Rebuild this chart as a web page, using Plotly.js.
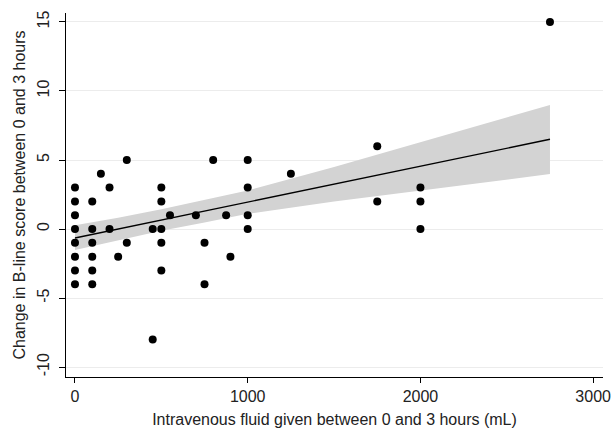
<!DOCTYPE html>
<html>
<head>
<meta charset="utf-8">
<script src="https://cdn.plot.ly/plotly-3.0.1.min.js"></script>
<style>html,body{margin:0;padding:0;background:#fff;}#chart{width:611px;height:431px;}</style>
</head>
<body>
<div id="chart"></div>
<script>
// Scatter data: IV fluid (mL) vs change in B-line score
var fluidML = [0,0,0,0,0,0,0,0,
  100,100,100,100,100,100,
  150,200,200,250,300,300,450,450,
  500,500,500,500,500,550,700,750,750,800,875,900,
  1000,1000,1000,1000,1250,1750,1750,2000,2000,2000,2750];
var bLineChange = [3,2,1,0,-1,-2,-3,-4,
  2,0,-1,-2,-3,-4,
  4,3,0,-2,5,-1,0,-8,
  3,2,0,-1,-3,1,1,-1,-4,5,1,-2,
  5,3,1,0,4,6,2,3,2,0,15];

// Linear fit and 95% CI
var fitX = [0, 250, 500, 750, 1000, 1500, 2000, 2750];
var fitY = [-0.65, 0.0, 0.65, 1.3, 1.95, 3.25, 4.55, 6.5];
var ciLow = [-1.52, -0.82, -0.13, 0.48, 1.1, 2.0, 2.8, 3.98];
var ciHigh = [0.27, 0.82, 1.43, 2.12, 2.8, 4.5, 6.3, 8.98];

var xTicks = [0, 1000, 2000, 3000];
var yTicks = [-10, -5, 0, 5, 10, 15];

var font = {family: '"Liberation Sans", Arial, sans-serif', size: 16, color: '#222'};

var traces = [
  {x: fitX, y: ciLow, type: 'scatter', mode: 'lines', line: {width: 0, color: 'rgba(0,0,0,0)'}, hoverinfo: 'skip', showlegend: false},
  {x: fitX, y: ciHigh, type: 'scatter', mode: 'lines', fill: 'tonexty', fillcolor: 'rgb(211,211,211)', line: {width: 0, color: 'rgba(0,0,0,0)'}, hoverinfo: 'skip', showlegend: false},
  {x: fitX, y: fitY, type: 'scatter', mode: 'lines', line: {color: '#000', width: 1.4}, showlegend: false},
  {x: fluidML, y: bLineChange, type: 'scatter', mode: 'markers', marker: {color: '#000', size: 8}, showlegend: false}
];

var layout = {
  width: 611, height: 431,
  margin: {l: 66, r: 8, t: 13, b: 54, pad: 0},
  paper_bgcolor: '#fff', plot_bgcolor: '#fff',
  font: font,
  showlegend: false,
  xaxis: {
    range: [-52, 3057], tickvals: xTicks, ticktext: xTicks.map(String),
    showgrid: false, zeroline: false,
    showline: true, linecolor: '#000', linewidth: 1,
    ticks: 'outside', ticklen: 5, tickcolor: '#000', tickwidth: 1,
    tickfont: font, ticklabeloverflow: 'allow',
    title: {text: 'Intravenous fluid given between 0 and 3 hours (mL)', font: font, standoff: 9}
  },
  yaxis: {
    range: [-10.72, 15.65], tickvals: yTicks, ticktext: yTicks.map(String),
    showgrid: true, gridcolor: '#ececec', gridwidth: 1, zeroline: false,
    showline: true, linecolor: '#000', linewidth: 1,
    ticks: 'outside', ticklen: 6, tickcolor: '#000', tickwidth: 1,
    tickangle: -90, tickfont: font, ticklabelstandoff: 4, automargin: true,
    title: {text: 'Change in B-line score between 0 and 3 hours', font: font, standoff: 4}
  }
};

Plotly.newPlot('chart', traces, layout, {staticPlot: true, displayModeBar: false});
</script>
</body>
</html>
